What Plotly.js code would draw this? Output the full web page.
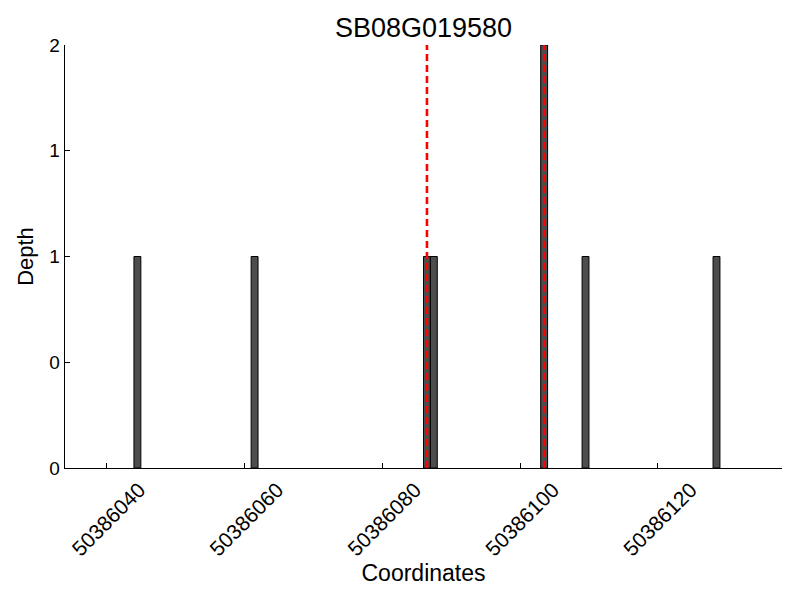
<!DOCTYPE html>
<html>
<head>
<meta charset="utf-8">
<script src="https://cdn.plot.ly/plotly-3.0.1.min.js"></script>
<style>html,body{margin:0;padding:0;background:#fff;}#chart{width:800px;height:600px;}</style>
</head>
<body>
<div id="chart"></div>
<script>
// Data
const chartTitle = "SB08G019580";
const coordinates = [50386044, 50386061, 50386086, 50386087, 50386103, 50386109, 50386128];
const depths = [1, 1, 1, 1, 2, 1, 1];
const markerLines = [50386086.5, 50386103.5];
const yTickVals = [0, 0.5, 1, 1.5, 2];
const yTickText = ["0", "0", "1", "1", "2"];
const xTickVals = [50386040, 50386060, 50386080, 50386100, 50386120];
const xTickText = ["50386040", "50386060", "50386080", "50386100", "50386120"];

const font = "Liberation Sans, Arial, sans-serif";

const traces = [{
  type: "bar",
  x: coordinates,
  y: depths,
  width: 1,
  offset: 0,
  marker: {color: "#4d4d4d", line: {color: "#000", width: 1}},
  hoverinfo: "x+y"
}];
markerLines.forEach(v => {
  traces.push({
    type: "scatter",
    mode: "lines",
    x: [v, v],
    y: [0, 2],
    line: {color: "#ff0000", width: 2.6, dash: "7px,4px"},
    hoverinfo: "skip"
  });
});

const layout = {
  width: 800, height: 600,
  margin: {l: 65, r: 18, t: 45, b: 132},
  paper_bgcolor: "#fff", plot_bgcolor: "#fff",
  showlegend: false,
  bargap: 0,
  font: {family: font, color: "#000"},
  title: {text: chartTitle, font: {family: font, size: 27, color: "#000"},
          x: 0.5, xref: "paper", y: 1 - 28/600, yref: "container", yanchor: "middle"},
  xaxis: {
    range: [50386034, 50386138],
    tickvals: xTickVals, ticktext: xTickText,
    tickangle: -45, ticks: "inside", ticklen: 5, tickcolor: "#000", tickwidth: 1,
    tickfont: {family: font, size: 21, color: "#000"},
    ticklabelshift: 33,
    showline: true, linecolor: "#000", linewidth: 1.3,
    showgrid: false, zeroline: false, automargin: true,
    title: {text: "Coordinates", font: {family: font, size: 23, color: "#000"}, standoff: 4}
  },
  yaxis: {
    range: [0, 2],
    tickvals: yTickVals, ticktext: yTickText,
    ticks: "inside", ticklen: 5, tickcolor: "#000", tickwidth: 1,
    tickfont: {family: font, size: 19, color: "#000"},
    showline: true, linecolor: "#000", linewidth: 1.3,
    showgrid: false, zeroline: false, automargin: false,
    title: {text: "Depth", font: {family: font, size: 22, color: "#000"}, standoff: 9}
  }
};

Plotly.newPlot("chart", traces, layout, {displayModeBar: false, staticPlot: true});
</script>
</body>
</html>
